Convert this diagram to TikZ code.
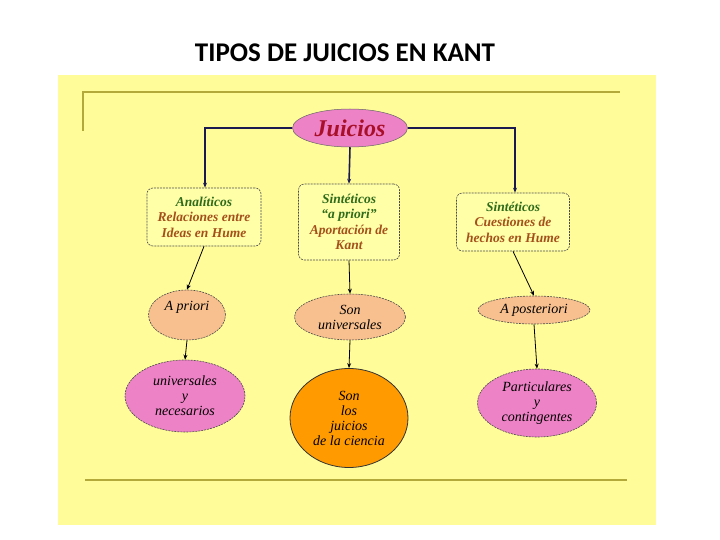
\documentclass[tikz,border=0pt]{standalone}
\usepackage{fontspec}
\setmainfont{Liberation Serif}
\newfontfamily\titlefont{Carlito}
\usetikzlibrary{shapes.geometric,arrows.meta}
\definecolor{bgyellow}{HTML}{FFFC99}
\definecolor{olive}{HTML}{B3A93A}
\definecolor{pinkfill}{HTML}{EE82C6}
\definecolor{peach}{HTML}{F8C08E}
\definecolor{orangefill}{HTML}{FF9A00}
\definecolor{boxfill}{HTML}{FFFFA8}
\definecolor{greentext}{HTML}{2F6B1A}
\definecolor{browntext}{HTML}{A4501A}
\definecolor{redtext}{HTML}{A8102A}
\definecolor{navy}{HTML}{1A1A50}
\tikzset{
  ell/.style={ellipse, inner sep=0pt, align=center, font=\itshape\fontsize{14}{15}\selectfont, text=black},
  pinkell/.style={ell, fill=pinkfill, draw=black!70, dash pattern=on 2pt off 1pt, line width=0.6pt},
  peachell/.style={ell, fill=peach, draw=black!70, dash pattern=on 2pt off 1pt, line width=0.6pt},
  orangeell/.style={ell, fill=orangefill, draw=black!80, line width=0.8pt},
  textbox/.style={rectangle, rounded corners=6pt, fill=boxfill, draw=black!70, dash pattern=on 2pt off 1pt, line width=0.6pt, inner sep=0pt, align=center, font=\itshape\bfseries\fontsize{13.5}{15.5}\selectfont, text=browntext},
  mainlink/.style={draw=navy, line width=1.6pt, -{Stealth[length=5pt,width=4pt]}},
  sublink/.style={draw=black, line width=0.8pt, -{Stealth[length=5pt,width=4pt]}},
  rule/.style={draw=olive}
}
\begin{document}
\begin{tikzpicture}[x=1pt,y=-1pt]
\useasboundingbox (0,0) rectangle (720,540);
\fill[white] (0,0) rectangle (720,540);
\node[font=\titlefont\bfseries\fontsize{27}{30}\selectfont] (title) at (345,53) {TIPOS DE JUICIOS EN KANT};
\fill[bgyellow] (58,75) rectangle (656,525);
\draw[rule, line width=2.5pt] (83,131) -- (83,92) -- (620,92);
\draw[rule, line width=1.2pt] (85,480) -- (627,480);

\node[ellipse, inner sep=0pt, minimum width=115pt, minimum height=38pt, fill=pinkfill, draw=black!60, line width=0.5pt, text=redtext, font=\itshape\bfseries\fontsize{24}{26}\selectfont] (juicios) at (350,128) {Juicios};

\node[textbox, minimum width=114pt, minimum height=58pt] (anal) at (204,217) {\textcolor{greentext}{Analíticos}\\Relaciones entre\\Ideas en Hume};
\node[textbox, minimum width=101pt, minimum height=76pt] (sinta) at (349,222) {\textcolor{greentext}{Sintéticos}\\\textcolor{greentext}{“a priori”}\\Aportación de\\Kant};
\node[textbox, minimum width=113pt, minimum height=58pt] (sintb) at (513,222) {\textcolor{greentext}{Sintéticos}\\Cuestiones de\\hechos en Hume};

\node[peachell, minimum width=77pt, minimum height=50pt] (apriori) at (187,315) {A priori\\[3pt]};
\node[peachell, minimum width=111pt, minimum height=46pt] (sonuni) at (350,317) {Son\\universales};
\node[peachell, minimum width=112pt, minimum height=28pt] (apost) at (534,310) {A posteriori};

\node[pinkell, minimum width=120pt, minimum height=72pt] (univ) at (185,396) {universales\\y\\necesarios};
\node[orangeell, minimum width=118pt, minimum height=99pt] (ciencia) at (349,418) {Son\\los\\juicios\\de la ciencia};
\node[pinkell, minimum width=119pt, minimum height=68pt] (partic) at (537,403) {Particulares\\y\\contingentes};

\draw[mainlink] (juicios.west) -| (anal.north -| 205,0);
\draw[mainlink] (juicios.east) -| (sintb.north -| 515,0);
\draw[mainlink] (juicios.south) -- (sinta.north);

\draw[sublink] (anal.south) -- (apriori.north);
\draw[sublink] (sinta.south) -- (sonuni.north);
\draw[sublink] (sintb.south) -- (apost.north);
\draw[sublink] (apriori.south) -- (univ.north);
\draw[sublink] (sonuni.south) -- (ciencia.north);
\draw[sublink] (apost.south) -- (partic.north);
\end{tikzpicture}
\end{document}
